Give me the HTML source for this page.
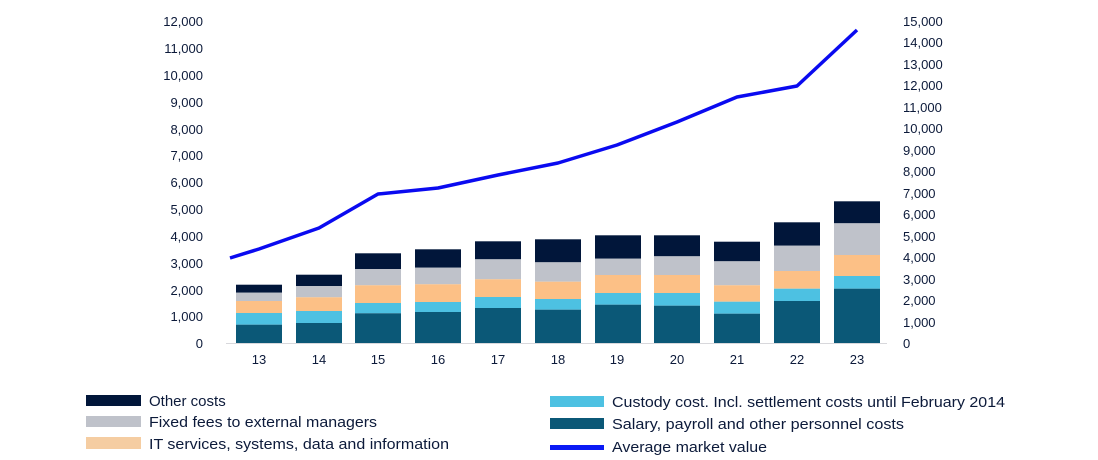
<!DOCTYPE html>
<html><head><meta charset="utf-8"><style>
html,body{margin:0;padding:0;background:#fff;}
svg{display:block;font-family:"Liberation Sans",sans-serif;}
.ax{font-size:13px;fill:#0c1a3a;}
.lg{font-size:15px;fill:#0c1a3a;}
</style></head><body>
<svg width="1098" height="460" viewBox="0 0 1098 460">
<g class="ax" text-anchor="end">
<text x="203" y="26">12,000</text><text x="203" y="53">11,000</text><text x="203" y="80">10,000</text>
<text x="203" y="107">9,000</text><text x="203" y="134">8,000</text><text x="203" y="160">7,000</text>
<text x="203" y="187">6,000</text><text x="203" y="214">5,000</text><text x="203" y="241">4,000</text>
<text x="203" y="268">3,000</text><text x="203" y="295">2,000</text><text x="203" y="321">1,000</text>
<text x="203" y="348">0</text>
</g>
<g class="ax" text-anchor="start">
<text x="903" y="26">15,000</text><text x="903" y="47">14,000</text><text x="903" y="69">13,000</text>
<text x="903" y="90">12,000</text><text x="903" y="112">11,000</text><text x="903" y="133">10,000</text>
<text x="903" y="155">9,000</text><text x="903" y="176">8,000</text><text x="903" y="198">7,000</text>
<text x="903" y="219">6,000</text><text x="903" y="241">5,000</text><text x="903" y="262">4,000</text>
<text x="903" y="284">3,000</text><text x="903" y="305">2,000</text><text x="903" y="327">1,000</text>
<text x="903" y="348">0</text>
</g>
<line x1="226" y1="343.5" x2="887" y2="343.5" stroke="#d8d8dc" stroke-width="1"/>
<g id="bars"></g>
<polyline fill="none" stroke="#0a0af0" stroke-width="3.5" stroke-linejoin="round" points="230,258 259,249 319,228 378,194 438,188 498,175 558,163 617,145 677,122 737,97 797,86 857,30"/>
<g class="ax" text-anchor="middle">
<text x="259" y="364">13</text><text x="319" y="364">14</text><text x="378" y="364">15</text><text x="438" y="364">16</text>
<text x="498" y="364">17</text><text x="558" y="364">18</text><text x="617" y="364">19</text><text x="677" y="364">20</text>
<text x="737" y="364">21</text><text x="797" y="364">22</text><text x="857" y="364">23</text>
</g>
<rect x="86" y="395" width="55" height="11" fill="#01163a"/>
<rect x="86" y="416" width="55" height="11" fill="#bfc2ca"/>
<rect x="86" y="437" width="55" height="12" fill="#f5cda2"/>
<text class="lg" x="149" y="406">Other costs</text>
<text class="lg" x="149" y="427" textLength="228" lengthAdjust="spacingAndGlyphs">Fixed fees to external managers</text>
<text class="lg" x="149" y="449" textLength="300" lengthAdjust="spacingAndGlyphs">IT services, systems, data and information</text>
<rect x="550" y="396" width="54" height="11" fill="#4dc1e2"/>
<rect x="550" y="418" width="54" height="11" fill="#0b5877"/>
<rect x="550" y="445" width="54" height="5" fill="#0a1af5"/>
<text class="lg" x="612" y="407" textLength="393" lengthAdjust="spacingAndGlyphs">Custody cost. Incl. settlement costs until February 2014</text>
<text class="lg" x="612" y="429" textLength="292" lengthAdjust="spacingAndGlyphs">Salary, payroll and other personnel costs</text>
<text class="lg" x="612" y="452" textLength="155" lengthAdjust="spacingAndGlyphs">Average market value</text>
</svg>
<script>
var d=[[236,284.7,292.7,301,313,324.7],[296,274.7,286,297.3,311,323],[355,253.3,269,285.3,303,313.3],[415,249.3,267.7,284.3,302,312],[475,241.3,259.3,279.3,297,308],[535,239.3,262.3,281.7,299,309.7],[595,235.3,258.7,275,293,304.7],[654,235.3,256.3,275,293,305.7],[714,241.7,261.3,285.3,301.7,313.7],[774,222.3,245.7,271,288.7,301],[834,201.3,223.3,255,276,288.7]];
var c=["#01163a","#bfc2ca","#fcc086","#4dc1e2","#0b5877"];
var g=document.getElementById("bars"),s="";
d.forEach(function(b){var ys=[b[1],b[2],b[3],b[4],b[5],343];for(var i=0;i<5;i++){s+='<rect x="'+b[0]+'" y="'+ys[i]+'" width="46" height="'+(ys[i+1]-ys[i])+'" fill="'+c[i]+'"/>';}});
g.innerHTML=s;
</script>
</body></html>
